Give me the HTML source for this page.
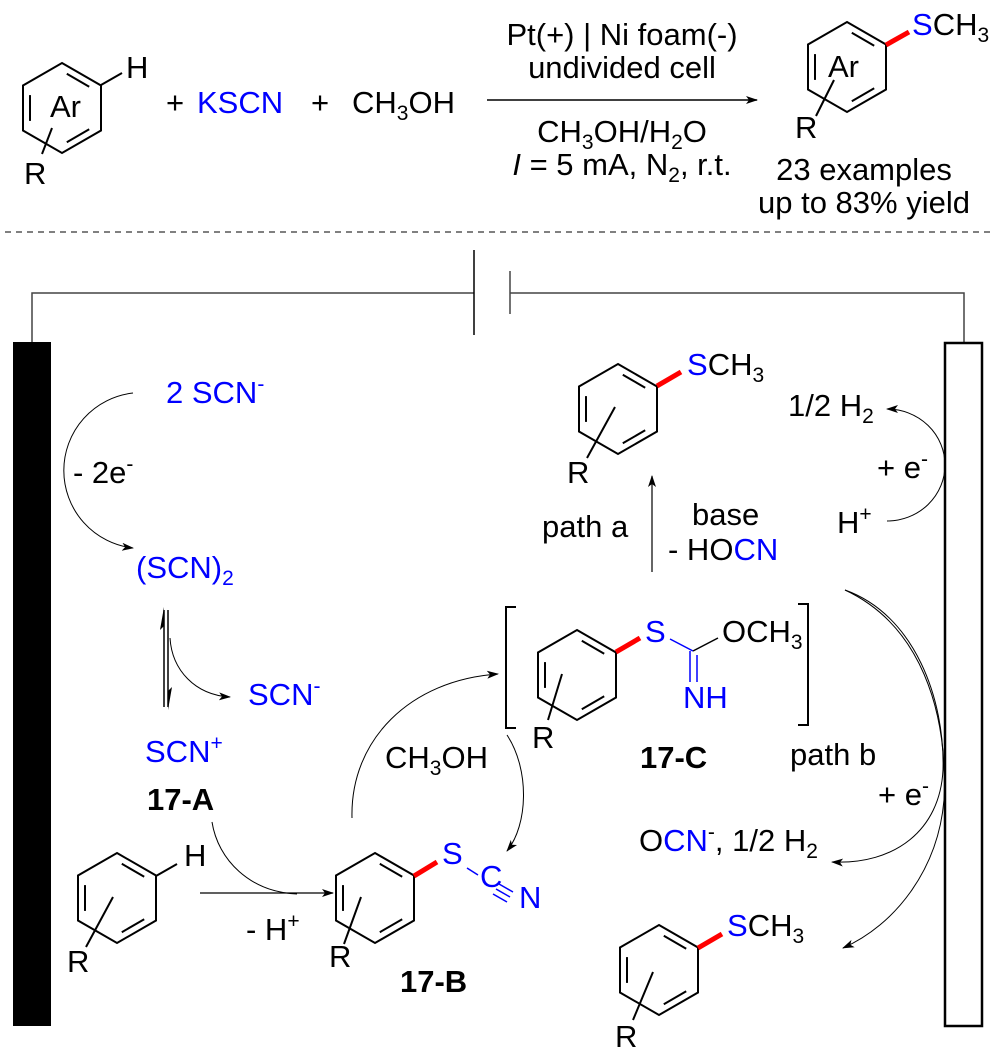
<!DOCTYPE html>
<html><head><meta charset="utf-8"><style>
html,body{margin:0;padding:0;background:#fff}
svg{display:block}
text{font-family:"Liberation Sans",sans-serif;font-size:31px;fill:#000}
.b{fill:#0000ff}
.bd{font-weight:bold}
</style></head><body>
<svg width="1000" height="1057" viewBox="0 0 1000 1057" xmlns="http://www.w3.org/2000/svg">
<defs>
<g id="ring" fill="none" stroke="#000" stroke-width="2">
<polygon points="0,-45 39,-22.5 39,22.5 0,45 -39,22.5 -39,-22.5"/>
<line x1="4.8" y1="-34.2" x2="27.2" y2="-21.3"/>
<line x1="27.2" y1="21.3" x2="4.8" y2="34.2"/>
<line x1="-32" y1="12.9" x2="-32" y2="-12.9"/>
</g>
<marker id="ah" viewBox="0 0 12 8" refX="11" refY="4" markerWidth="12" markerHeight="8" markerUnits="userSpaceOnUse" orient="auto">
<path d="M0,0 L12,4 L0,8 L3,4 z" fill="#000"/>
</marker>
</defs>

<!-- top reaction -->
<use href="#ring" x="62" y="108"/>
<line x1="101" y1="85" x2="122" y2="73" stroke="#000" stroke-width="2"/>
<text x="126" y="78">H</text>
<text x="50" y="117">Ar</text>
<line x1="52" y1="128" x2="42" y2="154" stroke="#000" stroke-width="2"/>
<text x="24" y="184">R</text>
<text x="166" y="113">+</text>
<text x="197" y="113" class="b">KSCN</text>
<text x="311" y="113">+</text>
<text x="352" y="113">CH<tspan font-size="21" dy="7">3</tspan><tspan dy="-7">OH</tspan></text>
<line x1="487" y1="100" x2="757" y2="100" stroke="#000" stroke-width="1.5" marker-end="url(#ah)"/>
<text x="622" y="45" text-anchor="middle">Pt(+) | Ni foam(-)</text>
<text x="622" y="78" text-anchor="middle">undivided cell</text>
<text x="622" y="142" text-anchor="middle">CH<tspan font-size="21" dy="7">3</tspan><tspan dy="-7">OH/H</tspan><tspan font-size="21" dy="7">2</tspan><tspan dy="-7">O</tspan></text>
<text x="622" y="175" text-anchor="middle"><tspan font-style="italic">I</tspan> = 5 mA, N<tspan font-size="21" dy="7">2</tspan><tspan dy="-7">, r.t.</tspan></text>

<use href="#ring" x="847" y="67"/>
<line x1="886" y1="45" x2="909" y2="32" stroke="#ff0000" stroke-width="5"/>
<text x="912" y="35"><tspan class="b">S</tspan>CH<tspan font-size="21" dy="7">3</tspan></text>
<text x="828" y="77">Ar</text>
<line x1="834" y1="80" x2="816" y2="116" stroke="#000" stroke-width="2"/>
<text x="795" y="138">R</text>
<text x="864" y="180" text-anchor="middle">23 examples</text>
<text x="864" y="213" text-anchor="middle">up to 83% yield</text>

<line x1="5" y1="232" x2="995" y2="232" stroke="#000" stroke-width="1" stroke-dasharray="6,5"/>

<!-- circuit -->
<path d="M32,342 V293 H474" fill="none" stroke="#444" stroke-width="1.5"/>
<line x1="474" y1="250" x2="474" y2="335" stroke="#000" stroke-width="1.5"/>
<line x1="510" y1="271" x2="510" y2="314" stroke="#444" stroke-width="1.5"/>
<path d="M510,293 H964 V342" fill="none" stroke="#444" stroke-width="1.5"/>
<rect x="13" y="342" width="38" height="684" fill="#000"/>
<rect x="945" y="343" width="37" height="683" fill="none" stroke="#000" stroke-width="2.5"/>

<!-- anode side -->
<text x="166" y="403" class="b">2 SCN<tspan font-size="21" dy="-12">-</tspan></text>
<path d="M133,393 A78,78 0 0 0 133,548" fill="none" stroke="#000" stroke-width="1" marker-end="url(#ah)"/>
<text x="73" y="483">- 2e<tspan font-size="21" dy="-12">-</tspan></text>
<text x="136" y="578" class="b">(SCN)<tspan font-size="21" dy="7">2</tspan></text>
<line x1="164" y1="707" x2="164" y2="610" stroke="#000" stroke-width="1.5"/>
<path d="M164,607 L160,630 L164,626 z" fill="#000"/>
<line x1="168" y1="610" x2="168" y2="707" stroke="#000" stroke-width="1.5"/>
<path d="M168,710 L172,687 L168,691 z" fill="#000"/>
<path d="M170,638 C172,670 195,695 230,697" fill="none" stroke="#000" stroke-width="1" marker-end="url(#ah)"/>
<text x="248" y="705" class="b">SCN<tspan font-size="21" dy="-12">-</tspan></text>
<text x="145" y="762" class="b">SCN<tspan font-size="21" dy="-12">+</tspan></text>
<text x="147" y="810" class="bd">17-A</text>

<use href="#ring" x="117" y="898"/>
<line x1="156" y1="876" x2="177" y2="864" stroke="#000" stroke-width="2"/>
<text x="184" y="866">H</text>
<line x1="113" y1="897" x2="86" y2="947" stroke="#000" stroke-width="2"/>
<text x="67" y="972">R</text>
<path d="M212,822 C218,860 250,892 297,894" fill="none" stroke="#000" stroke-width="1"/>
<line x1="200" y1="893" x2="333" y2="893" stroke="#000" stroke-width="1.2" marker-end="url(#ah)"/>
<text x="246" y="940">- H<tspan font-size="21" dy="-12">+</tspan></text>

<use href="#ring" x="375" y="898"/>
<line x1="414" y1="876" x2="437" y2="862" stroke="#ff0000" stroke-width="5"/>
<text x="442" y="864" class="b">S</text>
<line x1="467" y1="868" x2="478" y2="875" stroke="#0000ff" stroke-width="1.5"/>
<text x="480" y="887" class="b">C</text>
<g stroke="#0000ff" stroke-width="1.5">
<line x1="499" y1="884" x2="513" y2="892"/>
<line x1="496" y1="889" x2="510" y2="897"/>
<line x1="493" y1="894" x2="507" y2="902"/>
</g>
<text x="519" y="908" class="b">N</text>
<line x1="361" y1="897" x2="344" y2="944" stroke="#000" stroke-width="2"/>
<text x="329" y="967">R</text>
<text x="400" y="992" class="bd">17-B</text>

<path d="M352,818 C350,740 410,680 498,674" fill="none" stroke="#000" stroke-width="1" marker-end="url(#ah)"/>
<text x="385" y="768">CH<tspan font-size="21" dy="7">3</tspan><tspan dy="-7">OH</tspan></text>
<path d="M507,735 C530,770 528,825 507,851" fill="none" stroke="#000" stroke-width="1" marker-end="url(#ah)"/>

<!-- 17-C -->
<path d="M516,607 H506 V728 H516" fill="none" stroke="#000" stroke-width="2"/>
<path d="M798,604 H808 V725 H798" fill="none" stroke="#000" stroke-width="2"/>
<use href="#ring" x="577" y="675"/>
<line x1="616" y1="652" x2="640" y2="638" stroke="#ff0000" stroke-width="5"/>
<text x="645" y="642" class="b">S</text>
<line x1="670" y1="639" x2="693" y2="651" stroke="#0000ff" stroke-width="1.5"/>
<line x1="693" y1="651" x2="718" y2="638" stroke="#000" stroke-width="1.5"/>
<line x1="690" y1="651" x2="690" y2="682" stroke="#0000ff" stroke-width="1.5"/>
<line x1="697" y1="655" x2="697" y2="682" stroke="#0000ff" stroke-width="1.5"/>
<text x="722" y="642">OCH<tspan font-size="21" dy="7">3</tspan></text>
<text x="683" y="708" class="b">NH</text>
<line x1="562" y1="674" x2="548" y2="720" stroke="#000" stroke-width="2"/>
<text x="532" y="748">R</text>
<text x="640" y="768" class="bd">17-C</text>

<!-- path a -->
<line x1="652" y1="572" x2="652" y2="476" stroke="#000" stroke-width="1.2" marker-end="url(#ah)"/>
<text x="542" y="537">path a</text>
<text x="692" y="525">base</text>
<text x="668" y="560">- HO<tspan class="b">CN</tspan></text>
<use href="#ring" x="618" y="409"/>
<line x1="657" y1="386" x2="681" y2="372" stroke="#ff0000" stroke-width="5"/>
<text x="687" y="375"><tspan class="b">S</tspan>CH<tspan font-size="21" dy="7">3</tspan></text>
<line x1="615" y1="407" x2="587" y2="458" stroke="#000" stroke-width="2"/>
<text x="567" y="483">R</text>

<!-- cathode -->
<text x="788" y="416">1/2 H<tspan font-size="21" dy="7">2</tspan></text>
<path d="M887,521 A58,56 0 0 0 887,409" fill="none" stroke="#000" stroke-width="1" marker-end="url(#ah)"/>
<text x="877" y="478">+ e<tspan font-size="21" dy="-12">-</tspan></text>
<text x="837" y="533">H<tspan font-size="21" dy="-12">+</tspan></text>

<!-- path b -->
<text x="790" y="765">path b</text>
<text x="878" y="805">+ e<tspan font-size="21" dy="-12">-</tspan></text>
<path d="M845,590 C915,615 945,700 943,770 C940,830 895,865 832,862" fill="none" stroke="#000" stroke-width="1" marker-end="url(#ah)"/>
<path d="M845,590 C920,625 948,710 944,800 C938,870 895,925 843,948" fill="none" stroke="#000" stroke-width="1" marker-end="url(#ah)"/>
<text x="639" y="851">O<tspan class="b">CN</tspan><tspan font-size="21" dy="-12">-</tspan><tspan dy="12">, 1/2 H</tspan><tspan font-size="21" dy="7">2</tspan></text>
<use href="#ring" x="659" y="970"/>
<line x1="698" y1="948" x2="722" y2="934" stroke="#ff0000" stroke-width="5"/>
<text x="727" y="936"><tspan class="b">S</tspan>CH<tspan font-size="21" dy="7">3</tspan></text>
<line x1="653" y1="972" x2="633" y2="1020" stroke="#000" stroke-width="2"/>
<text x="615" y="1047">R</text>
</svg>
</body></html>
